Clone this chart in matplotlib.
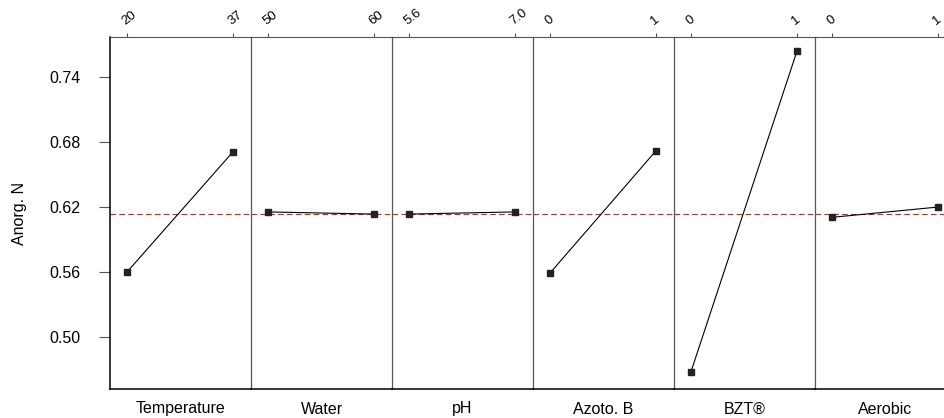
import matplotlib
matplotlib.use("Agg")
import matplotlib.pyplot as plt

plt.rcParams["font.family"] = ["Liberation Sans", "DejaVu Sans"]

# Main-effects data
FACTORS = ["Temperature", "Water", "pH", "Azoto. B", "BZT\u00ae", "Aerobic"]
LEVEL_LABELS = [["20", "37"], ["50", "60"], ["5.6", "7.0"], ["0", "1"], ["0", "1"], ["0", "1"]]
LOW_MEANS = [0.560, 0.6155, 0.6135, 0.559, 0.468, 0.6105]
HIGH_MEANS = [0.671, 0.6135, 0.6155, 0.672, 0.764, 0.620]
GRAND_MEAN = 0.6137
Y_TICKS = [0.50, 0.56, 0.62, 0.68, 0.74]

W, H = 944, 418
fig = plt.figure(figsize=(W / 100, H / 100), dpi=100)

left_px, top_px, bottom_px = 110, 37, 389
panel_px = 141
pad_lo, pad_hi = 17, 18
span = panel_px - pad_lo - pad_hi

for i, name in enumerate(FACTORS):
    x0 = (left_px + i * panel_px) / W
    ax = fig.add_axes([x0, 1 - bottom_px / H, panel_px / W, (bottom_px - top_px) / H])
    ax.set_xlim(-pad_lo / span, 1 + pad_hi / span)
    ax.set_ylim(0.452, 0.777)

    ax.axhline(GRAND_MEAN, color="#d42020", lw=0.8, ls=(0, (5, 3)), zorder=1)
    ax.plot([0, 1], [LOW_MEANS[i], HIGH_MEANS[i]], color="black", lw=0.8,
            marker="s", ms=4, mfc="#222222", mec="#222222", zorder=3)

    # top axis with factor levels
    ax.xaxis.tick_top()
    ax.set_xticks([0, 1])
    ax.set_xticklabels(LEVEL_LABELS[i], rotation=38, fontsize=9.5,
                       ha="left", va="bottom", rotation_mode="anchor")
    ax.tick_params(axis="x", length=3, width=0.8, color="#555555", pad=4)
    ax.set_xlabel(name, fontsize=11.5, labelpad=9)
    ax.xaxis.set_label_position("bottom")

    ax.spines["right"].set_visible(False)
    ax.spines["top"].set_color("#555555")
    ax.spines["bottom"].set_color("black")
    ax.spines["bottom"].set_linewidth(1.1)
    if i == 0:
        ax.spines["left"].set_color("black")
        ax.spines["left"].set_linewidth(1.1)
        ax.set_yticks(Y_TICKS)
        ax.set_yticklabels([f"{v:.2f}" for v in Y_TICKS], fontsize=11.5)
        ax.tick_params(axis="y", length=8, width=0.8, color="#555555", pad=13)
        ax.set_ylabel("Anorg. N", fontsize=11.5, labelpad=16)
    else:
        ax.spines["left"].set_color("#555555")
        ax.spines["left"].set_linewidth(0.9)
        ax.set_yticks([])

fig.savefig("out.png", dpi=100)
